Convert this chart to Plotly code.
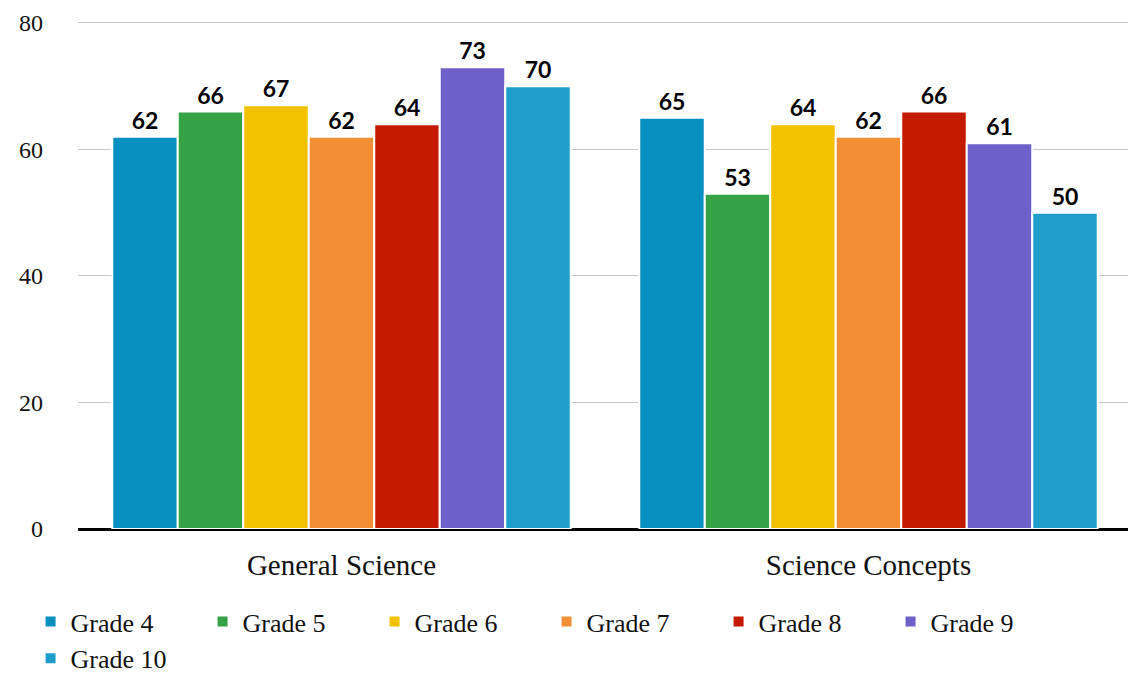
import plotly.graph_objects as go

categories = ["General Science", "Science Concepts"]
grades = ["Grade 4", "Grade 5", "Grade 6", "Grade 7", "Grade 8", "Grade 9", "Grade 10"]
values = {
    "Grade 4": [62, 65],
    "Grade 5": [66, 53],
    "Grade 6": [67, 64],
    "Grade 7": [62, 62],
    "Grade 8": [64, 66],
    "Grade 9": [73, 61],
    "Grade 10": [70, 50],
}
colors = ["#078fc0", "#34a245", "#f2c200", "#f28e33", "#c41a00", "#6f5fc8", "#1f9ecc"]
y_ticks = [0, 20, 40, 60, 80]

SERIF = "Liberation Serif, Times New Roman, serif"
SANS = "Lato, Open Sans, sans-serif"

fig = go.Figure()
for g, c in zip(grades, colors):
    fig.add_trace(go.Bar(
        x=categories, y=values[g], name=g,
        marker=dict(color=c, line=dict(color="white", width=2)),
        text=values[g], textposition="outside", cliponaxis=False,
        textfont=dict(family=SANS, size=23, color="black", weight="bold"),
    ))

fig.update_layout(
    width=1128, height=669,
    margin=dict(l=70, r=4, t=12, b=148, autoexpand=False),
    paper_bgcolor="white", plot_bgcolor="white",
    barmode="group", bargap=0.13, bargroupgap=0,
    showlegend=True,
    legend=dict(orientation="h", x=-0.045, xanchor="left", y=-0.1356, yanchor="top",
                font=dict(family=SERIF, size=26, color="#111"),
                entrywidth=127, entrywidthmode="pixels", tracegroupgap=0,
                traceorder="normal"),
)
fig.update_xaxes(
    tickfont=dict(family=SERIF, size=29, color="#111"),
    showline=False, showgrid=False, ticks="", automargin=False,
    ticklabelstandoff=16,
)
fig.update_yaxes(
    range=[0, 80.47], tickvals=y_ticks, ticktext=[str(v) for v in y_ticks],
    tickfont=dict(family=SERIF, size=24, color="#111"),
    showgrid=True, gridcolor="#c8c8c8", gridwidth=1,
    zeroline=True, zerolinecolor="black", zerolinewidth=3,
    showline=False, ticks="", ticklabelstandoff=34, automargin=False,
)

fig.write_html("out.html")
